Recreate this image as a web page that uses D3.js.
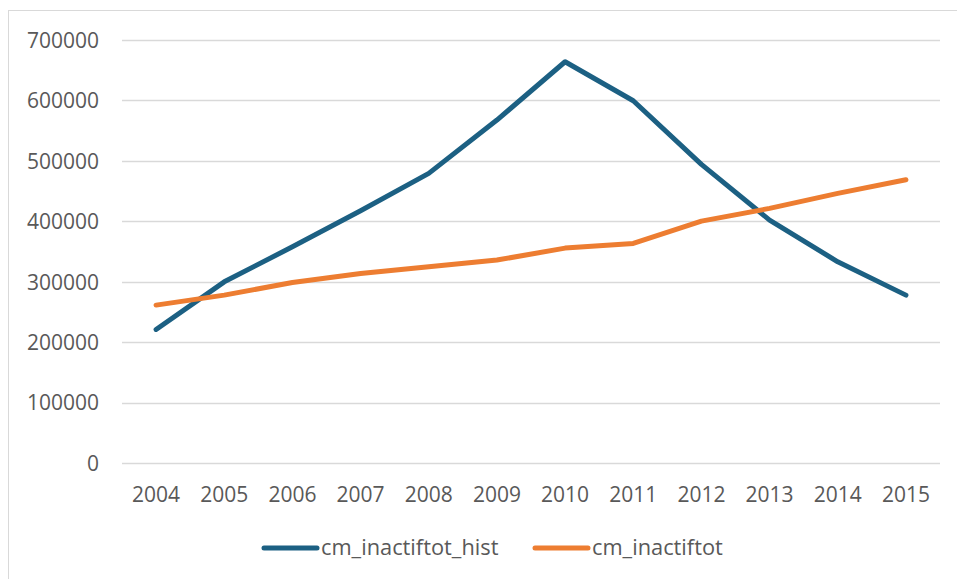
<!DOCTYPE html>
<html>
<head>
<meta charset="utf-8">
<script src="https://cdn.jsdelivr.net/npm/d3@7"></script>
<style>
  html, body { margin: 0; padding: 0; background: #fff; }
  svg { display: block; }
  text { font-family: "Open Sans", "Noto Sans", sans-serif; fill: #595959; }
</style>
</head>
<body>
<svg id="chart" width="957" height="579"></svg>
<script>
// Yearly series
const years = ["2004","2005","2006","2007","2008","2009","2010","2011","2012","2013","2014","2015"];
const histValues = [221000, 299800, 357800, 417400, 479300, 567500, 664000, 599500, 494200, 402000, 333000, 277800];
const totValues  = [261300, 277800, 298800, 313700, 324700, 335800, 355600, 363400, 400300, 421300, 446200, 468700];
const yTicks = [0, 100000, 200000, 300000, 400000, 500000, 600000, 700000];
const seriesNames = ["cm_inactiftot_hist", "cm_inactiftot"];
const seriesColors = ["#1c6083", "#ed7d31"];

const svg = d3.select("#chart");

// chart-area frame
svg.append("rect")
  .attr("x", 8.5).attr("y", 10.5)
  .attr("width", 1000).attr("height", 1000)
  .attr("fill", "none").attr("stroke", "#d9d9d9").attr("stroke-width", 1);

const plotLeft = 122, plotRight = 940, plotTop = 40, plotBottom = 463;

const x = d3.scaleBand().domain(years).range([plotLeft, plotRight]);
const y = d3.scaleLinear().domain([0, 700000]).range([plotBottom, plotTop]);

// gridlines
svg.append("g")
  .selectAll("line")
  .data(yTicks)
  .join("line")
  .attr("x1", plotLeft).attr("x2", plotRight)
  .attr("y1", d => Math.round(y(d)) + 0.5)
  .attr("y2", d => Math.round(y(d)) + 0.5)
  .attr("stroke", "#d9d9d9").attr("stroke-width", 1.5);

// y axis labels
const yAxis = d3.axisLeft(y).tickValues(yTicks).tickFormat(d3.format("d")).tickSize(0).tickPadding(0);
const gy = svg.append("g").attr("transform", "translate(99,0)").call(yAxis);
gy.select(".domain").remove();
gy.selectAll("text")
  .attr("font-size", 21)
  .attr("font-family", "\"Open Sans\", sans-serif")
  .attr("fill", "#555")
  .attr("dy", "0.35em");

// x axis labels
const xAxis = d3.axisBottom(x).tickSize(0).tickPadding(0);
const gx = svg.append("g").call(xAxis);
gx.select(".domain").remove();
gx.selectAll(".tick").attr("transform", d => `translate(${x(d) + x.bandwidth() / 2},502)`);
gx.selectAll("text")
  .attr("font-size", 21)
  .attr("font-family", "\"Open Sans\", sans-serif")
  .attr("fill", "#555")
  .attr("y", 0)
  .attr("dy", 0);

// lines
const line = d3.line()
  .x((d, i) => x(years[i]) + x.bandwidth() / 2)
  .y(d => y(d));

[histValues, totValues].forEach((vals, k) => {
  svg.append("path")
    .datum(vals)
    .attr("d", line)
    .attr("fill", "none")
    .attr("stroke", seriesColors[k])
    .attr("stroke-width", 5)
    .attr("stroke-linejoin", "round")
    .attr("stroke-linecap", "round");
});

// legend
const legendItems = [
  { name: seriesNames[0], color: seriesColors[0], x0: 264, x1: 317, tx: 321 },
  { name: seriesNames[1], color: seriesColors[1], x0: 535, x1: 588, tx: 592 }
];
const lg = svg.append("g");
legendItems.forEach(it => {
  lg.append("line")
    .attr("x1", it.x0).attr("x2", it.x1)
    .attr("y1", 548).attr("y2", 548)
    .attr("stroke", it.color).attr("stroke-width", 5)
    .attr("stroke-linecap", "round");
  lg.append("text")
    .attr("x", it.tx).attr("y", 555)
    .attr("font-size", 21.8)
    .attr("fill", "#555")
    .text(it.name);
});
</script>
</body>
</html>
